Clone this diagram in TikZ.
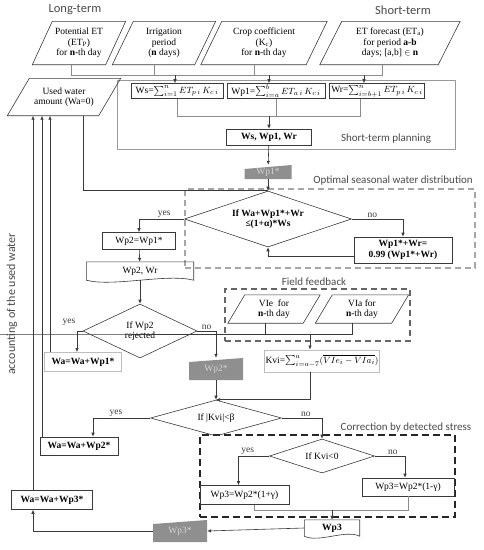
\documentclass[tikz,border=0pt]{standalone}
\usepackage{fontspec}
\setmainfont{Liberation Serif}
\newfontfamily\lblfont{Carlito}
\usetikzlibrary{shapes.geometric,arrows.meta,positioning,calc}
\definecolor{framegray}{HTML}{9A9A9A}
\definecolor{lightedge}{HTML}{BDBDBD}
\definecolor{manfill}{HTML}{8F8F8F}
\definecolor{mantext}{HTML}{D4D4D4}
\definecolor{lblgray}{HTML}{4A4A4A}
\definecolor{linegray}{HTML}{3A3A3A}
\newcommand{\boxfont}{\fontsize{9.5}{10.5}\selectfont}
\newcommand{\docoutline}[1]{%
    % #1=node name, document shape with wavy bottom
    \draw[linegray, line width=0.6pt] (#1.south west) -- (#1.north west) -- (#1.north east) -- (#1.south east)
        .. controls ($(#1.south)!0.5!(#1.south east)+(0,-7)$) and ($(#1.south west)!0.5!(#1.south)+(0,7)$) .. (#1.south west);
}
\newcommand{\paraoutline}[2]{%
    % #1=node name, #2=slant
    \draw[linegray, line width=0.6pt] (#1.south west) -- ([xshift=#2]#1.north west) -- (#1.north east) -- ([xshift=-#2]#1.south east) -- cycle;
}

\begin{document}
\begin{tikzpicture}[x=1pt, y=-1pt,
    inbox/.style={rectangle, align=center, inner sep=1pt, font=\boxfont, minimum height=43pt},
    calcbox/.style={rectangle, draw=linegray, line width=0.6pt, align=center, inner sep=1pt, font=\boxfont},
    softbox/.style={calcbox, draw=lightedge, line width=0.9pt},
    decision/.style={diamond, draw=linegray, line width=0.6pt, align=center, inner sep=0pt, font=\boxfont},
    manin/.style={rectangle, inner sep=0pt, text=mantext, font=\boxfont, path picture={\fill[manfill] (path picture bounding box.south west) -- (path picture bounding box.south east) -- (path picture bounding box.north east) -- ([yshift=-4pt]path picture bounding box.north west) -- cycle;}},
    docbox/.style={rectangle, inner sep=1pt, align=center, font=\boxfont},
    lbl/.style={font=\lblfont\fontsize{11}{13}\selectfont, text=lblgray},
    lab/.style={font=\boxfont, text=linegray, inner sep=1.5pt},
    conn/.style={draw=linegray, line width=0.6pt},
    bus/.style={draw=black!45, line width=0.6pt},
    arr/.style={conn, -{Latex[length=4pt,width=3.5pt]}},
    stframe/.style={rectangle, draw=framegray, line width=0.6pt},
    optframe/.style={rectangle, draw=black!35, dash pattern=on 6pt off 4pt, line width=1.3pt},
    fbframe/.style={rectangle, draw=black!60, dash pattern=on 6pt off 4pt, line width=1.3pt},
    corrframe/.style={rectangle, draw=black!85, dash pattern=on 7pt off 4pt, line width=1.4pt}
]
    \useasboundingbox (0,0) rectangle (484,550);

    % frames
    \node[stframe, minimum width=338pt, minimum height=69pt] (stp) at (286,114.5) {};
    \node[optframe, minimum width=290pt, minimum height=79pt] (osd) at (330,228.5) {};
    \node[fbframe, minimum width=185pt, minimum height=52pt] (ffb) at (317.5,315) {};
    \node[corrframe, minimum width=255pt, minimum height=82pt] (cds) at (327.5,476) {};
    \node[lbl] (stplbl) at (386,139) {Short-term planning};
    \node[lbl] (osdlbl) at (393,181) {Optimal seasonal water distribution};
    \node[lbl] (ffblbl) at (314,282) {Field feedback};
    \node[lbl] (cdslbl) at (406,428) {Correction by detected stress};

    \node[lbl, font=\lblfont\fontsize{12.5}{14}\selectfont] (longt) at (75,10) {Long-term};
    \node[lbl, font=\lblfont\fontsize{12.5}{14}\selectfont] (shortt) at (403,10) {Short-term};
    \node[lbl, font=\lblfont\fontsize{12}{14}\selectfont, rotate=90] (acct) at (12,304) {accounting of the used water};

    % inputs
    \node[inbox, minimum width=93pt] (potet) at (79,43) {Potential ET\\(ET\textsubscript{P})\\for \textbf{n}-th day};
    \node[inbox, minimum width=103pt] (irrig) at (164,43) {Irrigation\\period\\(\textbf{n} days)};
    \node[inbox, minimum width=126pt] (cropc) at (264,43) {Crop coefficient\\(K\textsubscript{c})\\for \textbf{n}-th day};
    \node[inbox, minimum width=140pt] (etf) at (390,43) {ET forecast (ET\textsubscript{a})\\for period \textbf{a-b}\\days; [a,b] $\in$ \textbf{n}};
    \node[inbox, minimum width=113pt, minimum height=37pt] (used) at (64,97) {Used water\\amount (Wa=0)};
    \paraoutline{potet}{20pt}
    \paraoutline{irrig}{21pt}
    \paraoutline{cropc}{21pt}
    \paraoutline{etf}{22pt}
    \paraoutline{used}{22pt}

    % short-term planning
    \node[calcbox, minimum width=92pt, minimum height=15pt] (ws) at (177,91) {Ws=$\sum_{i=1}^{n} ET_{p\,i}\,K_{c\,i}$};
    \node[calcbox, minimum width=98pt, minimum height=15pt] (wp1) at (276,91) {Wp1=$\sum_{i=a}^{b} ET_{a\,i}\,K_{c\,i}$};
    \node[calcbox, minimum width=95pt, minimum height=15pt] (wr) at (377,91) {Wr=$\sum_{i=b+1}^{n} ET_{p\,i}\,K_{c\,i}$};
    \node[calcbox, font=\boxfont\bfseries, minimum width=85pt, minimum height=16pt] (wsum) at (269,137) {Ws, Wp1, Wr};
    \node[manin, minimum width=47pt, minimum height=14pt] (wp1s) at (268,172) {Wp1*};

    % seasonal distribution
    \node[decision, aspect=3, font=\boxfont\bfseries, minimum width=167pt, minimum height=56pt] (d1) at (268,219) {If Wa+Wp1*+Wr\\≤(1+α)*Ws};
    \node[calcbox, font=\boxfont\bfseries, minimum width=98pt, minimum height=26pt] (opt) at (403,250) {Wp1*+Wr=\\0.99 (Wp1*+Wr)};
    \node[calcbox, minimum width=73pt, minimum height=17pt] (wp2) at (139,241) {Wp2=Wp1*};
    \node[docbox, minimum width=107pt, minimum height=18pt] (wp2wr) at (140,271) {Wp2, Wr};
    \node[decision, aspect=2.1, minimum width=114pt, minimum height=54pt] (d2) at (140,331) {If Wp2\\rejected};
    \node[softbox, font=\boxfont\bfseries, minimum width=77pt, minimum height=19pt] (wa1) at (83,362) {Wa=Wa+Wp1*};
    \node[manin, minimum width=54pt, minimum height=22pt] (wp2s) at (216,369) {Wp2*};

    % field feedback
    \node[inbox, minimum width=92pt, minimum height=28pt] (vie) at (274,309) {VIe\ \ for\\\textbf{n}-th day};
    \node[inbox, minimum width=93pt, minimum height=28pt] (via) at (362,309) {VIa for\\\textbf{n}-th day};
    \paraoutline{vie}{17pt}
    \paraoutline{via}{17pt}
    \node[softbox, minimum width=114pt, minimum height=22pt] (kvi) at (322,361) {Kvi=$\sum_{i=a-7}^{a}(\overline{VIe_i-VIa_i})$};
    \node[decision, aspect=3.6, minimum width=131pt, minimum height=36pt] (d3) at (216,418) {If |Kvi|<β};
    \node[calcbox, font=\boxfont\bfseries, minimum width=78pt, minimum height=18pt] (wa2) at (79,446) {Wa=Wa+Wp2*};

    % stress correction
    \node[decision, aspect=3.1, minimum width=105pt, minimum height=34pt] (d4) at (322,456) {If Kvi<0};
    \node[calcbox, minimum width=89pt, minimum height=19pt] (wp3a) at (244.5,495) {Wp3=Wp2*(1+γ)};
    \node[calcbox, minimum width=92pt, minimum height=18pt] (wp3b) at (408,487) {Wp3=Wp2*(1-γ)};
    \node[docbox, font=\boxfont\bfseries, minimum width=55pt, minimum height=16pt] (wp3) at (332,528) {Wp3};
    \node[manin, minimum width=54pt, minimum height=22pt] (wp3s) at (180,531) {Wp3*};
    \node[calcbox, font=\boxfont\bfseries, minimum width=81pt, minimum height=19pt] (wa3) at (52,500) {Wa=Wa+Wp3*};

    \docoutline{wp2wr}
    \docoutline{wp3}

    \coordinate (busa) at (0,75);
    \coordinate (busb) at (0,116);
    \coordinate (busc) at (0,334);
    \coordinate (busd) at (0,510);

    % connectors
    \draw[bus] ([xshift=-8pt]potet.south) -- ([xshift=-8pt]potet.south |- busa) -| ([xshift=-8pt]etf.south);
    \draw[bus] ([xshift=-10pt]irrig.south) -- ([xshift=-10pt]irrig.south |- busa);
    \draw[bus] ([xshift=-10pt]cropc.south) -- ([xshift=-10pt]cropc.south |- busa);
    \draw[arr] ([xshift=-2pt]ws.north |- busa) -- ([xshift=-2pt]ws.north);
    \draw[arr] ([xshift=-7pt]wp1.north |- busa) -- ([xshift=-7pt]wp1.north);
    \draw[arr] ([xshift=-13pt]wr.north |- busa) -- ([xshift=-13pt]wr.north);
    \draw[bus] (ws.south) -- (ws.south |- busb) -| ([xshift=-17pt]wr.south);
    \draw[bus] (wp1.south) -- (wp1.south |- busb);
    \draw[arr] (wsum.north |- busb) -- (wsum.north);
    \draw[arr] (wsum) -- (wp1s);
    \draw[arr] (wp1s) -- (d1.north);
    \draw[conn] ([xshift=19pt]used.south) |- (d1.north);

    \draw[arr] (d1.west) -| node[lab, above, pos=0.22] {yes} (wp2.north);
    \draw[arr] (d1.east) -| node[lab, above, pos=0.2] {no} (opt.north);
    \draw[arr] ([yshift=-6pt]opt.west) -| (d1.south);
    \draw[arr] (wp2) -- (wp2wr);
    \draw[arr] (wp2wr.south) -- (d2.north);
    \draw[arr] (d2.west) -| node[lab, above left, pos=0.6, yshift=8pt] {yes} ([xshift=-6pt]wa1.north);
    \draw[arr] (d2.east) -| node[lab, above, pos=0.25] {no} (wp2s.north);
    \draw[arr] ([xshift=-33pt]wa1.north) -- ([xshift=-33pt]wa1.north |- used.south);

    \draw[conn] ([xshift=-9pt]vie.south) |- (busc) -| ([xshift=-10pt]via.south);
    \draw[arr] ([xshift=-12pt]kvi.north |- busc) -- ([xshift=-12pt]kvi.north);
    \draw[arr] ([xshift=-12pt]kvi.south) |- (d3.north);
    \draw[arr] (wp2s) -- (d3.north);
    \draw[arr] (d3.west) -| node[lab, above, pos=0.3] {yes} ([xshift=14pt]wa2.north);
    \draw[arr] (d3.east) -| node[lab, above, pos=0.3] {no} (d4.north);
    \draw[arr] ([xshift=-37pt]wa2.north) -- ([xshift=-37pt]wa2.north |- used.south);

    \draw[arr] (d4.west) -| node[lab, above, pos=0.35] {yes} ([xshift=-6pt]wp3a.north);
    \draw[arr] (d4.east) -| node[lab, above, pos=0.3] {no} ([xshift=-3pt]wp3b.north);
    \draw[bus] ([xshift=10pt]wp3a.south) -- ([xshift=10pt]wp3a.south |- busd) -| (wp3b.south);
    \draw[arr] (wp3.north |- busd) -- (wp3.north);
    \draw[arr] (wp3.west) -- (wp3s.east);
    \draw[arr] (wp3s.west) -| ([xshift=-19pt]wa3.south);
    \draw[arr] ([xshift=-19pt]wa3.north) -- ([xshift=-19pt]wa3.north |- used.south);
\end{tikzpicture}
\end{document}
